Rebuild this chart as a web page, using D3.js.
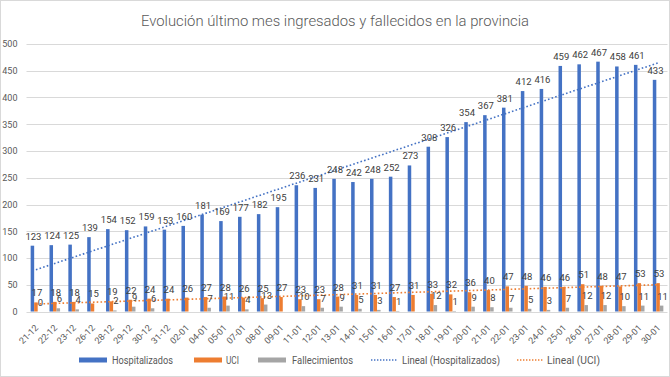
<!DOCTYPE html>
<html>
<head>
<meta charset="utf-8">
<script src="https://cdn.jsdelivr.net/npm/d3@7"></script>
<style>
  body { margin: 0; background: #fff; }
  text { font-family: Roboto, "Open Sans", sans-serif; }
</style>
</head>
<body>
<div id="chart"></div>
<script>
// categories (dates) and series
const fechas = ["21-12","22-12","23-12","26-12","28-12","29-12","30-12","31-12","02-01","04-01",
  "05-01","07-01","08-01","09-01","11-01","12-01","13-01","14-01","15-01","16-01",
  "17-01","18-01","19-01","20-01","21-01","22-01","23-01","24-01","25-01","26-01",
  "27-01","28-01","29-01","30-01"];
const hospitalizados = [123,124,125,139,154,152,159,153,160,181,169,177,182,195,236,231,248,242,248,252,
  273,308,326,354,367,381,412,416,459,462,467,458,461,433];
const uci = [17,18,18,15,19,22,24,24,26,27,28,26,25,27,23,23,28,31,31,27,
  31,33,32,36,40,47,48,46,46,51,48,47,53,53];
const fallecimientos = [0,6,4,null,2,9,6,null,null,7,11,4,13,null,10,7,9,5,3,1,
  null,12,1,9,8,7,5,3,7,12,12,10,11,11];
const yTicks = [0,50,100,150,200,250,300,350,400,450,500];

const series = [
  {name: "Hospitalizados", values: hospitalizados, color: "#4472C4"},
  {name: "UCI", values: uci, color: "#ED7D31"},
  {name: "Fallecimientos", values: fallecimientos, color: "#A5A5A5"}
];

const W = 670, H = 377;
const svg = d3.select("#chart").append("svg")
  .attr("width", W).attr("height", H);

// chart frame
svg.append("rect")
  .attr("x", 0.5).attr("y", 0.5)
  .attr("width", W - 1).attr("height", H - 1)
  .attr("fill", "#fff").attr("stroke", "#D9D9D9");

svg.append("text")
  .attr("x", 141).attr("y", 26)
  .attr("font-size", 15.5)
  .attr("font-weight", 300)
  .attr("fill", "#595959")
  .attr("textLength", 388)
  .attr("lengthAdjust", "spacingAndGlyphs")
  .text("Evolución último mes ingresados y fallecidos en la provincia");

const plotL = 26.5, plotR = 667.5, plotT = 44, plotB = 311.5;

const x0 = d3.scaleBand().domain(fechas).range([plotL, plotR])
  .paddingInner(0.44).paddingOuter(0.22);
const x1 = d3.scaleBand().domain(series.map(s => s.name)).range([0, x0.bandwidth()]);
const y = d3.scaleLinear().domain([0, 500]).range([plotB, plotT]);

// gridlines
svg.append("g").selectAll("line")
  .data(yTicks)
  .join("line")
    .attr("x1", plotL).attr("x2", plotR)
    .attr("y1", d => Math.round(y(d)) + 0.5).attr("y2", d => Math.round(y(d)) + 0.5)
    .attr("stroke", "#D9D9D9").attr("stroke-width", 1);

// y axis labels
const yAxis = svg.append("g")
  .attr("transform", "translate(" + (plotL - 9) + ",0)")
  .call(d3.axisLeft(y).tickValues(yTicks).tickSize(0).tickPadding(0));
yAxis.select(".domain").remove();
yAxis.selectAll("text")
  .attr("font-size", 9).attr("fill", "#595959")
  .style("font-family", "Roboto, sans-serif");

// x axis labels, rotated
const xAxis = svg.append("g")
  .attr("transform", "translate(0," + plotB + ")")
  .call(d3.axisBottom(x0).tickSize(0).tickPadding(0));
xAxis.select(".domain").remove();
xAxis.selectAll("text")
  .attr("font-size", 9).attr("fill", "#595959")
  .style("font-family", "Roboto, sans-serif")
  .attr("text-anchor", "end")
  .attr("dy", null).attr("y", 0)
  .attr("transform", "translate(3,17) rotate(-45)");

// bars
series.forEach(s => {
  const g = svg.append("g");
  const pts = fechas.map((f, i) => ({f: f, v: s.values[i]})).filter(d => d.v !== null);
  g.selectAll("rect")
    .data(pts)
    .join("rect")
      .attr("x", d => x0(d.f) + x1(s.name))
      .attr("width", x1.bandwidth())
      .attr("y", d => y(d.v))
      .attr("height", d => plotB - y(d.v))
      .attr("fill", s.color);
});

// linear trendlines (least squares on category index 1..n, like Excel)
function trend(vals) {
  const pts = vals.map((v, i) => [i + 1, v]);
  const n = pts.length;
  const mx = d3.mean(pts, p => p[0]), my = d3.mean(pts, p => p[1]);
  const b = d3.sum(pts, p => (p[0] - mx) * (p[1] - my)) / d3.sum(pts, p => (p[0] - mx) ** 2);
  const a = my - b * mx;
  return [[fechas[0], a + b], [fechas[n - 1], a + b * n]];
}
const cx = f => x0(f) + x0.bandwidth() / 2;
const trendLine = d3.line().x(d => cx(d[0])).y(d => y(d[1]));

svg.append("path")
  .attr("d", trendLine(trend(hospitalizados)))
  .attr("stroke", "#4472C4").attr("stroke-width", 1.6)
  .attr("stroke-dasharray", "1.6 2.2").attr("fill", "none");
svg.append("path")
  .attr("d", trendLine(trend(uci)))
  .attr("stroke", "#ED7D31").attr("stroke-width", 1.6)
  .attr("stroke-dasharray", "1.6 2.2").attr("fill", "none");

// data labels
series.forEach(s => {
  const pts = fechas.map((f, i) => ({f: f, v: s.values[i]})).filter(d => d.v !== null);
  svg.append("g").selectAll("text")
    .data(pts)
    .join("text")
      .attr("x", d => x0(d.f) + x1(s.name) + x1.bandwidth() / 2 + 1)
      .attr("y", d => y(d.v) - 6)
      .attr("text-anchor", "middle")
      .attr("font-size", 9.5)
      .attr("fill", "#404040")
      .text(d => d.v);
});

// legend
const legend = [
  {label: "Hospitalizados", color: "#4472C4", type: "bar", x: 79, tx: 112, w: 61},
  {label: "UCI", color: "#ED7D31", type: "bar", x: 194, tx: 226, w: 13},
  {label: "Fallecimientos", color: "#A5A5A5", type: "bar", x: 258, tx: 292, w: 61},
  {label: "Lineal (Hospitalizados)", color: "#4472C4", type: "line", x: 371, tx: 402, w: 98},
  {label: "Lineal (UCI)", color: "#ED7D31", type: "line", x: 517, tx: 547, w: 53}
];
const ly = 360;
const lg = svg.append("g").selectAll("g").data(legend).join("g");
lg.filter(d => d.type === "bar").append("rect")
  .attr("x", d => d.x).attr("y", ly - 2.5).attr("width", 28).attr("height", 5)
  .attr("fill", d => d.color);
lg.filter(d => d.type === "line").append("line")
  .attr("x1", d => d.x).attr("x2", d => d.x + 26).attr("y1", ly).attr("y2", ly)
  .attr("stroke", d => d.color).attr("stroke-width", 1.4)
  .attr("stroke-dasharray", "1.4 1.6");
lg.append("text")
  .attr("x", d => d.tx).attr("y", ly + 3.8)
  .attr("font-size", 10.5).attr("fill", "#595959")
  .attr("textLength", d => d.w)
  .attr("lengthAdjust", "spacingAndGlyphs")
  .text(d => d.label);
</script>
</body>
</html>
